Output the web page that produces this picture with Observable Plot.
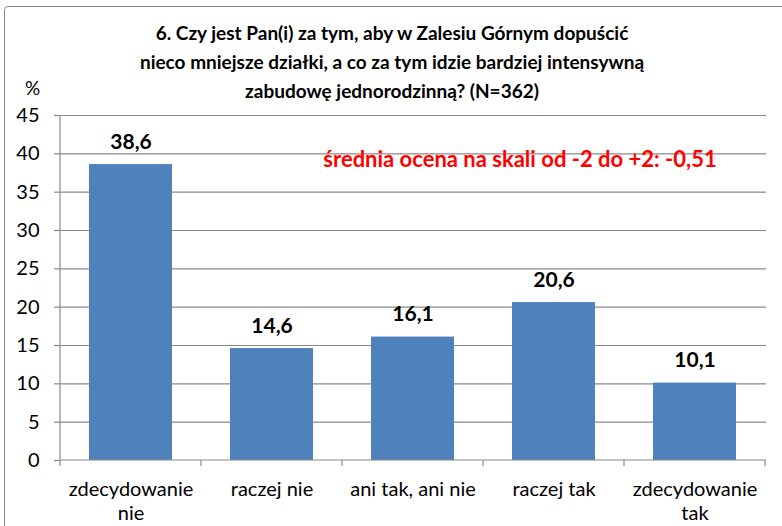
<!DOCTYPE html>
<html>
<head>
<meta charset="utf-8">
<script src="https://cdn.jsdelivr.net/npm/d3@7"></script>
<script src="https://cdn.jsdelivr.net/npm/@observablehq/plot@0.6"></script>
<style>
  html, body { margin: 0; padding: 0; background: #fff; }
  #wrap { position: relative; width: 782px; height: 526px; overflow: hidden; font-family: Lato, "Open Sans", sans-serif; }
  #frame { position: absolute; left: 4px; top: 6px; width: 820px; height: 600px; border: 1.5px solid #8a8a8a; border-radius: 4px; box-sizing: border-box; }
  #title { position: absolute; left: 42px; width: 700px; top: 18px; text-align: center; font-weight: bold; font-size: 19px; line-height: 29px; color: #000; }
  #unit { position: absolute; left: 25px; top: 76px; font-size: 19px; color: #000; }
  #note { position: absolute; left: 220px; width: 600px; top: 145px; text-align: center; font-weight: bold; font-size: 22px; color: #ff0000; }
  #chart { position: absolute; left: 0; top: 100px; }
</style>
</head>
<body>
<div id="wrap">
  <div id="frame"></div>
  <div id="title">6. Czy jest Pan(i) za tym, aby w Zalesiu Górnym dopuścić<br>nieco mniejsze działki, a co za tym idzie bardziej intensywną<br>zabudowę jednorodzinną? (N=362)</div>
  <div id="unit">%</div>
  <div id="chart"></div>
  <div id="note">średnia ocena na skali od -2 do +2: -0,51</div>
</div>
<script>
const categories = ["zdecydowanie\nnie", "raczej nie", "ani tak, ani nie", "raczej tak", "zdecydowanie\ntak"];
const values = [38.6, 14.6, 16.1, 20.6, 10.1];
const yTicks = [0, 5, 10, 15, 20, 25, 30, 35, 40, 45];

const data = categories.map((c, i) => ({category: c, value: values[i]}));
const fmt = v => v.toFixed(1).replace(".", ",");
const gray = "#8a8a8a";
const font = 'Lato, "Open Sans", sans-serif';

// axis lines + tick marks at band boundaries
function frameMark(index, scales, values, dimensions) {
  const {width, height, marginLeft, marginRight, marginTop, marginBottom} = dimensions;
  const x = scales.x;
  const y0 = height - marginBottom;
  const g = d3.create("svg:g").attr("stroke", gray).attr("stroke-width", 1.2).attr("fill", "none");
  g.append("line").attr("x1", marginLeft).attr("x2", marginLeft).attr("y1", marginTop).attr("y2", y0);
  g.append("line").attr("x1", marginLeft).attr("x2", width - marginRight).attr("y1", y0).attr("y2", y0);
  const bw = x.bandwidth ? x.bandwidth() : 0;
  const step = x.step ? x.step() : 0;
  const bounds = categories.map(c => x(c) + bw / 2 - step / 2);
  bounds.push(x(categories[categories.length - 1]) + bw / 2 + step / 2);
  for (const b of bounds) {
    g.append("line").attr("x1", b).attr("x2", b).attr("y1", y0).attr("y2", y0 + 6);
  }
  return g.node();
}

const chart = Plot.plot({
  width: 782,
  height: 426,
  marginLeft: 60,
  marginRight: 16,
  marginTop: 15,
  marginBottom: 66,
  style: {fontFamily: font, fontSize: "20px", color: "#000", background: "transparent"},
  x: {domain: categories, paddingInner: 0.41, paddingOuter: 0.205, axis: null},
  y: {domain: [0, 45], axis: null},
  marks: [
    Plot.ruleY(yTicks.filter(t => t > 0), {stroke: gray, strokeWidth: 1.2, strokeOpacity: 1}),
    Plot.axisY({ticks: yTicks, tickSize: 6, tickPadding: 15, stroke: gray, strokeOpacity: 1, strokeWidth: 1.2, fontSize: 20, fill: "#000", label: null}),
    Plot.barY(data, {x: "category", y: "value", fill: "#4f81bd"}),
    Plot.text(data, {x: "category", y: "value", text: d => fmt(d.value), lineAnchor: "bottom", dy: -16, fontWeight: "bold", fontSize: 21, fill: "#000"}),
    Plot.text(categories, {x: d => d, y: () => 0, text: d => d, lineAnchor: "top", dy: 18, lineHeight: 1.2, fontSize: 20, fill: "#000"}),
    frameMark
  ]
});
document.getElementById("chart").appendChild(chart);
</script>
</body>
</html>
